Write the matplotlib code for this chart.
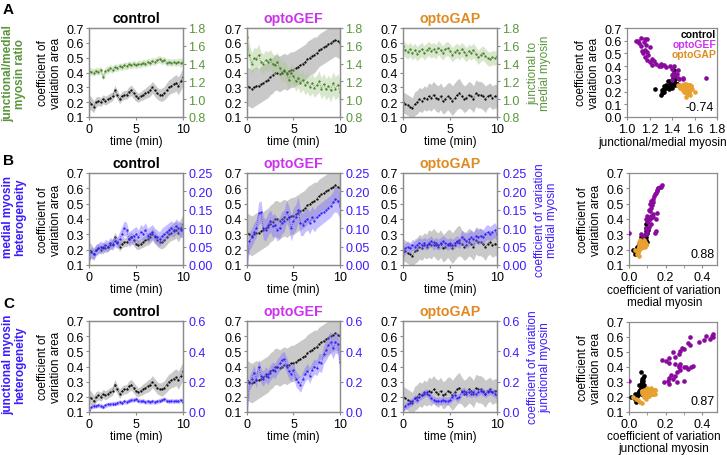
import numpy as np
import matplotlib.pyplot as plt
from matplotlib import font_manager
from matplotlib.ticker import FormatStrFormatter, MultipleLocator

# make sure the Arial-like face is really there
font_manager.findfont('Liberation Sans', fallback_to_default=False)

plt.rcParams['font.family'] = ['Liberation Sans', 'DejaVu Sans']
plt.rcParams['font.size'] = 8.5
plt.rcParams['axes.edgecolor'] = '#8c8c8c'
plt.rcParams['axes.linewidth'] = 0.9
plt.rcParams['xtick.color'] = '#8c8c8c'
plt.rcParams['ytick.color'] = '#8c8c8c'
plt.rcParams['xtick.labelcolor'] = 'black'
plt.rcParams['ytick.labelcolor'] = 'black'
plt.rcParams['xtick.major.size'] = 2.5
plt.rcParams['ytick.major.size'] = 2.5
plt.rcParams['xtick.major.pad'] = 1.5
plt.rcParams['ytick.major.pad'] = 1.5
plt.rcParams['xtick.labelsize'] = 9
plt.rcParams['ytick.labelsize'] = 9

# time points, one every 15 s
time_min = np.arange(41) * 0.25

# coefficient of variation of cell area (black), mean and sd
area_control = [0.20, 0.19, 0.17, 0.20, 0.21, 0.20, 0.22, 0.21, 0.22, 0.23, 0.24, 0.28, 0.25, 0.22,
                0.24, 0.25, 0.25, 0.27, 0.28, 0.26, 0.24, 0.23, 0.24, 0.25, 0.26, 0.27, 0.28, 0.30,
                0.28, 0.26, 0.25, 0.25, 0.26, 0.28, 0.30, 0.31, 0.32, 0.33, 0.31, 0.34, 0.37]
area_control_sd = [0.05, 0.045, 0.04, 0.035, 0.03, 0.03, 0.03, 0.03, 0.03, 0.03, 0.03, 0.035, 0.03, 0.03,
                   0.03, 0.03, 0.03, 0.035, 0.035, 0.035, 0.035, 0.03, 0.03, 0.035, 0.035, 0.04, 0.04, 0.04,
                   0.04, 0.04, 0.04, 0.045, 0.045, 0.05, 0.05, 0.05, 0.055, 0.055, 0.06, 0.06, 0.06]
area_gef = [0.31, 0.30, 0.29, 0.30, 0.31, 0.31, 0.32, 0.33, 0.34, 0.35, 0.37, 0.38, 0.40, 0.40,
            0.39, 0.40, 0.41, 0.40, 0.41, 0.42, 0.42, 0.43, 0.44, 0.45, 0.46, 0.47, 0.49, 0.50,
            0.51, 0.52, 0.53, 0.55, 0.56, 0.57, 0.58, 0.59, 0.60, 0.61, 0.62, 0.61, 0.60]
area_gef_sd = [0.13, 0.13, 0.13, 0.13, 0.13, 0.12, 0.12, 0.12, 0.12, 0.12, 0.12, 0.12, 0.12, 0.12,
               0.12, 0.12, 0.12, 0.12, 0.12, 0.12, 0.12, 0.12, 0.12, 0.12, 0.12, 0.12, 0.12, 0.12,
               0.12, 0.12, 0.11, 0.11, 0.11, 0.11, 0.11, 0.11, 0.11, 0.11, 0.11, 0.11, 0.11]
area_gap = [0.20, 0.19, 0.18, 0.17, 0.16, 0.19, 0.20, 0.22, 0.21, 0.23, 0.22, 0.24, 0.23, 0.25,
            0.23, 0.22, 0.24, 0.21, 0.22, 0.24, 0.23, 0.21, 0.23, 0.25, 0.26, 0.24, 0.22, 0.23,
            0.25, 0.24, 0.22, 0.26, 0.25, 0.25, 0.24, 0.22, 0.24, 0.25, 0.23, 0.24, 0.24]
area_gap_sd = [0.07, 0.07, 0.07, 0.07, 0.07, 0.08, 0.08, 0.08, 0.08, 0.08, 0.08, 0.09, 0.09, 0.09,
               0.09, 0.09, 0.09, 0.09, 0.09, 0.09, 0.10, 0.10, 0.10, 0.10, 0.10, 0.09, 0.09, 0.09,
               0.09, 0.09, 0.09, 0.09, 0.09, 0.09, 0.09, 0.09, 0.08, 0.08, 0.08, 0.08, 0.08]

# junctional / medial myosin ratio (green)
ratio_control = [1.32, 1.31, 1.30, 1.32, 1.31, 1.33, 1.25, 1.32, 1.33, 1.35, 1.33, 1.36, 1.35, 1.37,
                 1.36, 1.38, 1.37, 1.39, 1.38, 1.40, 1.38, 1.40, 1.39, 1.41, 1.40, 1.42, 1.41, 1.43,
                 1.42, 1.44, 1.45, 1.43, 1.44, 1.41, 1.42, 1.41, 1.42, 1.41, 1.42, 1.41, 1.42]
ratio_control_sd = [0.04, 0.04, 0.04, 0.04, 0.04, 0.04, 0.04, 0.04, 0.04, 0.04, 0.04, 0.04, 0.04, 0.04,
                    0.04, 0.04, 0.04, 0.04, 0.04, 0.04, 0.04, 0.04, 0.04, 0.04, 0.04, 0.04, 0.04, 0.04,
                    0.04, 0.04, 0.04, 0.04, 0.04, 0.04, 0.04, 0.04, 0.04, 0.04, 0.04, 0.05, 0.05]
ratio_gef = [1.70, 1.50, 1.40, 1.46, 1.45, 1.50, 1.42, 1.40, 1.44, 1.42, 1.45, 1.40, 1.38, 1.42,
             1.35, 1.30, 1.33, 1.28, 1.22, 1.30, 1.26, 1.20, 1.24, 1.18, 1.22, 1.16, 1.19, 1.14,
             1.18, 1.13, 1.16, 1.20, 1.12, 1.17, 1.11, 1.15, 1.10, 1.18, 1.12, 1.16, 1.08]
ratio_gef_sd = [0.12, 0.12, 0.12, 0.12, 0.12, 0.12, 0.11, 0.11, 0.11, 0.11, 0.11, 0.11, 0.11, 0.11,
                0.11, 0.11, 0.11, 0.11, 0.11, 0.11, 0.11, 0.11, 0.11, 0.11, 0.11, 0.11, 0.11, 0.11,
                0.11, 0.11, 0.11, 0.12, 0.12, 0.12, 0.12, 0.12, 0.13, 0.13, 0.13, 0.13, 0.13]
ratio_gap = [1.60, 1.55, 1.53, 1.56, 1.52, 1.55, 1.51, 1.54, 1.56, 1.52, 1.55, 1.57, 1.54, 1.56,
             1.53, 1.58, 1.55, 1.52, 1.56, 1.57, 1.54, 1.50, 1.53, 1.55, 1.52, 1.56, 1.53, 1.50,
             1.54, 1.52, 1.55, 1.51, 1.47, 1.50, 1.52, 1.49, 1.46, 1.45, 1.47, 1.46, 1.48]
ratio_gap_sd = [0.08, 0.08, 0.08, 0.08, 0.08, 0.08, 0.08, 0.08, 0.08, 0.08, 0.08, 0.08, 0.08, 0.08,
                0.08, 0.08, 0.08, 0.08, 0.08, 0.08, 0.08, 0.08, 0.08, 0.08, 0.08, 0.08, 0.08, 0.08,
                0.08, 0.08, 0.08, 0.08, 0.08, 0.08, 0.08, 0.08, 0.08, 0.08, 0.08, 0.08, 0.08]

# coefficient of variation of medial myosin (blue, row B)
medial_control = [0.020, 0.035, 0.030, 0.040, 0.045, 0.050, 0.045, 0.055, 0.050, 0.060, 0.055, 0.065,
                  0.060, 0.070, 0.085, 0.100, 0.095, 0.070, 0.075, 0.080, 0.085, 0.075, 0.090, 0.085,
                  0.095, 0.080, 0.085, 0.090, 0.080, 0.075, 0.070, 0.080, 0.085, 0.090, 0.095, 0.100,
                  0.095, 0.105, 0.100, 0.095, 0.095]
medial_control_sd = [0.015, 0.015, 0.015, 0.015, 0.015, 0.015, 0.015, 0.015, 0.015, 0.015, 0.015, 0.015,
                     0.015, 0.02, 0.02, 0.02, 0.02, 0.02, 0.02, 0.02, 0.02, 0.02, 0.02, 0.02,
                     0.02, 0.02, 0.02, 0.02, 0.02, 0.02, 0.02, 0.02, 0.02, 0.02, 0.02, 0.02,
                     0.02, 0.02, 0.02, 0.02, 0.02]
medial_gef = [0.000, 0.065, 0.075, 0.090, 0.100, 0.140, 0.145, 0.100, 0.095, 0.110, 0.120, 0.105,
              0.110, 0.095, 0.100, 0.115, 0.120, 0.145, 0.130, 0.100, 0.120, 0.130, 0.150, 0.115,
              0.110, 0.120, 0.125, 0.115, 0.130, 0.120, 0.130, 0.135, 0.140, 0.145, 0.150, 0.155,
              0.160, 0.170, 0.180, 0.175, 0.160]
medial_gef_sd = [0.02, 0.025, 0.025, 0.025, 0.025, 0.03, 0.03, 0.03, 0.03, 0.03, 0.03, 0.03,
                 0.03, 0.03, 0.03, 0.03, 0.03, 0.03, 0.03, 0.035, 0.035, 0.035, 0.035, 0.035,
                 0.03, 0.03, 0.03, 0.03, 0.03, 0.03, 0.03, 0.03, 0.03, 0.03, 0.03, 0.03,
                 0.03, 0.03, 0.035, 0.035, 0.035]
medial_gap = [0.035, 0.045, 0.050, 0.045, 0.055, 0.050, 0.055, 0.060, 0.055, 0.060, 0.055, 0.060,
              0.065, 0.055, 0.060, 0.055, 0.060, 0.065, 0.060, 0.055, 0.060, 0.055, 0.060, 0.065,
              0.060, 0.075, 0.070, 0.065, 0.070, 0.075, 0.070, 0.080, 0.075, 0.080, 0.075, 0.085,
              0.090, 0.085, 0.090, 0.095, 0.085]
medial_gap_sd = [0.015, 0.015, 0.015, 0.015, 0.015, 0.015, 0.015, 0.015, 0.015, 0.015, 0.015, 0.015,
                 0.015, 0.015, 0.015, 0.015, 0.015, 0.015, 0.015, 0.015, 0.015, 0.015, 0.015, 0.015,
                 0.015, 0.02, 0.02, 0.02, 0.02, 0.02, 0.02, 0.02, 0.02, 0.02, 0.02, 0.02,
                 0.02, 0.02, 0.02, 0.02, 0.02]

# coefficient of variation of junctional myosin (blue, row C)
junction_control = [0.010, 0.035, 0.040, 0.040, 0.045, 0.040, 0.035, 0.045, 0.050, 0.050, 0.055, 0.055,
                    0.060, 0.065, 0.060, 0.070, 0.065, 0.075, 0.080, 0.080, 0.085, 0.075, 0.070, 0.075,
                    0.065, 0.070, 0.065, 0.070, 0.065, 0.070, 0.075, 0.080, 0.085, 0.075, 0.070, 0.075,
                    0.070, 0.075, 0.070, 0.080, 0.065]
junction_control_sd = [0.015, 0.015, 0.015, 0.015, 0.015, 0.015, 0.015, 0.015, 0.015, 0.015, 0.015, 0.015,
                       0.015, 0.015, 0.015, 0.015, 0.015, 0.015, 0.015, 0.015, 0.015, 0.015, 0.015, 0.015,
                       0.015, 0.015, 0.015, 0.015, 0.015, 0.015, 0.015, 0.015, 0.015, 0.015, 0.015, 0.015,
                       0.015, 0.015, 0.015, 0.015, 0.015]
junction_gef = [0.00, 0.19, 0.22, 0.26, 0.21, 0.30, 0.24, 0.22, 0.25, 0.23, 0.26, 0.28, 0.27, 0.30,
                0.32, 0.34, 0.35, 0.31, 0.27, 0.25, 0.28, 0.22, 0.20, 0.18, 0.22, 0.25, 0.27, 0.24,
                0.28, 0.30, 0.29, 0.33, 0.32, 0.38, 0.41, 0.44, 0.46, 0.42, 0.46, 0.45, 0.33]
junction_gef_sd = [0.04, 0.05, 0.05, 0.05, 0.05, 0.05, 0.05, 0.05, 0.05, 0.05, 0.05, 0.05, 0.05, 0.05,
                   0.05, 0.05, 0.05, 0.05, 0.05, 0.05, 0.05, 0.05, 0.05, 0.05, 0.05, 0.05, 0.05, 0.05,
                   0.05, 0.05, 0.05, 0.06, 0.06, 0.06, 0.07, 0.07, 0.07, 0.07, 0.07, 0.07, 0.07]
junction_gap = [0.020, 0.040, 0.050, 0.060, 0.070, 0.090, 0.080, 0.100, 0.110, 0.120, 0.130, 0.110,
                0.090, 0.080, 0.070, 0.075, 0.070, 0.080, 0.075, 0.070, 0.080, 0.100, 0.110, 0.090,
                0.100, 0.130, 0.140, 0.120, 0.130, 0.120, 0.130, 0.120, 0.130, 0.140, 0.130, 0.120,
                0.130, 0.140, 0.130, 0.120, 0.110]
junction_gap_sd = [0.02, 0.025, 0.025, 0.025, 0.025, 0.025, 0.025, 0.025, 0.025, 0.025, 0.025, 0.025,
                   0.025, 0.025, 0.025, 0.025, 0.025, 0.025, 0.025, 0.025, 0.025, 0.025, 0.025, 0.025,
                   0.025, 0.025, 0.025, 0.025, 0.025, 0.025, 0.025, 0.025, 0.025, 0.025, 0.025, 0.025,
                   0.025, 0.025, 0.025, 0.025, 0.025]

conditions = ['control', 'optoGEF', 'optoGAP']
correlations = ['-0.74', '0.88', '0.87']

GREEN = '#5a963c'
GREEN_LINE = '#3d7a22'
GREEN_BAND = '#a9c98f'
BLUE = '#3b1cff'
BLUE_LINE = '#2a18ff'
BLUE_BAND = '#8070ff'
GEF_TITLE = '#cc33ee'
GAP_TITLE = '#e08a22'
GEF_DOT = '#8a0a9e'
GAP_DOT = '#e8a030'
title_colors = ['black', GEF_TITLE, GAP_TITLE]
dot_colors = ['black', GEF_DOT, GAP_DOT]

W, H = 727, 456
fig = plt.figure(figsize=(W / 100, H / 100), dpi=100)


def px_axes(x0, y0, x1, y1):
    return fig.add_axes([x0 / W, 1 - y1 / H, (x1 - x0) / W, (y1 - y0) / H])


def time_panel(box, area, area_sd, other, other_sd, line_c, band_c, tick_c,
               rlim, rticks, rfmt, title, title_c, ylabel=None, rlabel=None):
    ax = px_axes(*box)
    area = np.array(area)
    area_sd = np.array(area_sd)
    other = np.array(other)
    other_sd = np.array(other_sd)
    ax.fill_between(time_min, area - area_sd, area + area_sd, color='#b8b8b8', lw=0, alpha=0.75)
    ax.plot(time_min, area, color='black', ls=':', lw=0.5, marker='.', ms=1.2)
    ax.set_xlim(0, 10)
    ax.set_ylim(0.1, 0.7)
    ax.set_xticks([0, 5, 10])
    ax.set_yticks([0.1, 0.2, 0.3, 0.4, 0.5, 0.6, 0.7])
    ax.yaxis.set_major_formatter(FormatStrFormatter('%.1f'))
    ax.set_xlabel('time (min)', labelpad=0.5)
    ax.set_title(title, color=title_c, fontweight='bold', pad=4)
    if ylabel:
        ax.set_ylabel(ylabel, labelpad=3, linespacing=1.05)

    ax2 = ax.twinx()
    ax2.fill_between(time_min, other - other_sd, other + other_sd, color=band_c, lw=0, alpha=0.45)
    ax2.plot(time_min, other, color=line_c, ls=':', lw=0.5, marker='.', ms=1.2)
    ax2.set_ylim(*rlim)
    ax2.set_yticks(rticks)
    ax2.yaxis.set_major_formatter(FormatStrFormatter(rfmt))
    ax2.tick_params(axis='y', labelcolor=tick_c)
    if rlabel:
        ax2.set_ylabel(rlabel, color=tick_c, labelpad=5, linespacing=1.05)
    return ax


def scatter_panel(box, xs, ys, xlim, xticks, xfmt, ylim, xlabel, r_text, label_y,
                  legend=False, minor=None):
    ax = px_axes(*box)
    for x, y, c in zip(xs, ys, dot_colors):
        ax.scatter(x, y, s=11, color=c, linewidths=0, zorder=3)
    ax.set_xlim(*xlim)
    ax.set_ylim(*ylim)
    ax.set_xticks(xticks)
    ax.xaxis.set_major_formatter(FormatStrFormatter(xfmt))
    if minor:
        ax.xaxis.set_minor_locator(MultipleLocator(minor))
        ax.tick_params(axis='x', which='minor', length=2, color='#8c8c8c')
    ax.yaxis.set_major_locator(MultipleLocator(0.1))
    ax.yaxis.set_major_formatter(FormatStrFormatter('%.1f'))
    ax.set_xlabel(xlabel, linespacing=1.05)
    ax.xaxis.set_label_coords(0.4, label_y)
    ax.xaxis.label.set_va('top')
    ax.set_ylabel('coefficient of\nvariation area', labelpad=3, linespacing=1.05)
    ax.text(0.97, 0.05, r_text, transform=ax.transAxes, ha='right', va='bottom', fontsize=9)
    if legend:
        for i, (name, c) in enumerate(zip(conditions, title_colors)):
            ax.text(0.99, 0.985 - i * 0.11, name, transform=ax.transAxes, ha='right', va='top',
                    color=c, fontweight='bold', fontsize=7.5)
    return ax


col_x = [(89, 183), (247, 340), (403, 497)]
row_y = [(29, 118), (174, 266), (322, 413)]

area_all = [area_control, area_gef, area_gap]
area_sd_all = [area_control_sd, area_gef_sd, area_gap_sd]
rows = [
    dict(other=[ratio_control, ratio_gef, ratio_gap],
         sd=[ratio_control_sd, ratio_gef_sd, ratio_gap_sd],
         line_c=GREEN_LINE, band_c=GREEN_BAND, tick_c=GREEN,
         rlim=(0.8, 1.8), rticks=[0.8, 1.0, 1.2, 1.4, 1.6, 1.8], rfmt='%.1f',
         rlabel='junctional to\nmedial myosin'),
    dict(other=[medial_control, medial_gef, medial_gap],
         sd=[medial_control_sd, medial_gef_sd, medial_gap_sd],
         line_c=BLUE_LINE, band_c=BLUE_BAND, tick_c=BLUE,
         rlim=(0.0, 0.25), rticks=[0.0, 0.05, 0.10, 0.15, 0.20, 0.25], rfmt='%.2f',
         rlabel='coefficient of variation\nmedial myosin'),
    dict(other=[junction_control, junction_gef, junction_gap],
         sd=[junction_control_sd, junction_gef_sd, junction_gap_sd],
         line_c=BLUE_LINE, band_c=BLUE_BAND, tick_c=BLUE,
         rlim=(0.0, 0.6), rticks=[0.0, 0.2, 0.4, 0.6], rfmt='%.1f',
         rlabel='coefficient of variation\njunctional myosin'),
]

for r, row in enumerate(rows):
    y0, y1 = row_y[r]
    for c in range(3):
        x0, x1 = col_x[c]
        time_panel((x0, y0, x1, y1), area_all[c], area_sd_all[c], row['other'][c], row['sd'][c],
                   row['line_c'], row['band_c'], row['tick_c'], row['rlim'], row['rticks'],
                   row['rfmt'], conditions[c], title_colors[c],
                   ylabel='coefficient of\nvariation area' if c == 0 else None,
                   rlabel=row['rlabel'] if c == 2 else None)

# scatter plots: area CV against the coloured series, one dot per time point
scatter_panel((627, 29, 717, 118), rows[0]['other'], area_all, (1.0, 1.8),
              [1.0, 1.2, 1.4, 1.6, 1.8], '%.1f', (0.0, 0.7),
              'junctional/medial myosin', correlations[0], -0.215, legend=True)
scatter_panel((629, 174, 717, 266), rows[1]['other'], area_all, (0.0, 0.48),
              [0.0, 0.2, 0.4], '%.1f', (0.1, 0.7),
              'coefficient of variation\nmedial myosin', correlations[1], -0.205, minor=0.1)
scatter_panel((629, 323, 717, 413), rows[2]['other'], area_all, (0.0, 0.48),
              [0.0, 0.2, 0.4], '%.1f', (0.1, 0.7),
              'coefficient of variation\njunctional myosin', correlations[2], -0.2, minor=0.1)

# panel letters and row labels
for letter, y in zip(['A', 'B', 'C'], [3, 154, 297]):
    fig.text(3 / W, 1 - y / H, letter, fontsize=11, fontweight='bold', va='top')
row_labels = [('junctional/medial\nmyosin ratio', GREEN, 74),
              ('medial myosin\nheterogeneity', BLUE, 217),
              ('junctional myosin\nheterogeneity', BLUE, 365)]
for text, color, yc in row_labels:
    fig.text(14 / W, 1 - yc / H, text, rotation=90, ha='center', va='center', color=color,
             fontweight='bold', linespacing=1.05, multialignment='center')

fig.savefig('out.png', dpi=100)
